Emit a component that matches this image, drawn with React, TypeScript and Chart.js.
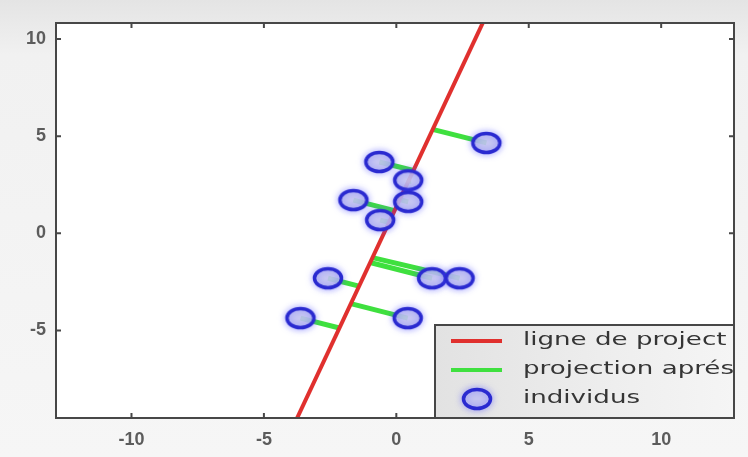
import { useEffect, useRef } from 'react';
import { Chart, registerables } from 'chart.js';
Chart.register(...registerables);

const xTicks = [-10, -5, 0, 5, 10];
const yTicks = [-5, 0, 5, 10];
const pointsX = [3.4, -0.64, 0.45, 0.45, -1.62, -0.61, 1.35, 2.39, -2.58, -3.62, 0.43];
const pointsY = [4.65, 3.67, 2.73, 1.62, 1.71, 0.68, -2.31, -2.31, -2.31, -4.36, -4.36];
const projX = [1.37, 0.64, 0.47, 0.13, -0.07, -0.28, -0.99, -0.9, -1.41, -2.15, -1.72];
const projY = [5.35, 3.23, 2.72, 1.73, 1.17, 0.57, -1.5, -1.25, -2.72, -4.87, -3.62];
const lineX = [-4.0, 3.5];
const lineY = [-10.24, 11.51];
const legendLabels = ['ligne de project', 'projection aprés', 'individus'];

const RED = '#e0302e';
const GREEN = '#3fe03f';
const BLUE = '#2a2ad0';

function drawEllipse(g: CanvasRenderingContext2D, cx: number, cy: number) {
  g.save();
  g.shadowColor = 'rgba(80,80,255,0.5)';
  g.shadowBlur = 7;
  g.beginPath();
  g.ellipse(cx, cy, 13.5, 9.5, 0, 0, Math.PI * 2);
  g.fillStyle = 'rgba(205,205,238,0.85)';
  g.fill();
  g.lineWidth = 3.5;
  g.strokeStyle = BLUE;
  g.stroke();
  g.restore();
}

function makeEllipse(): HTMLCanvasElement {
  const c = document.createElement('canvas');
  c.width = 48;
  c.height = 38;
  const g = c.getContext('2d')!;
  drawEllipse(g, 24, 19);
  return c;
}

export default function App() {
  const ref = useRef<HTMLCanvasElement>(null);
  useEffect(() => {
    document.body.style.margin = '0';
    const img = makeEllipse();
    const segs = pointsX.map((x, i) => ({
      type: 'scatter' as const,
      label: 'seg' + i,
      data: [
        { x, y: pointsY[i] },
        { x: projX[i], y: projY[i] },
      ],
      showLine: true,
      borderColor: GREEN,
      borderWidth: 5,
      pointRadius: 0,
      order: 3,
    }));
    const framePlugin = {
      id: 'frame',
      beforeDraw(chart: any) {
        const { ctx, chartArea: a, width, height } = chart;
        ctx.save();
        const grad = ctx.createLinearGradient(0, 0, 0, height);
        grad.addColorStop(0, '#e4e4e4');
        grad.addColorStop(0.12, '#f1f1f1');
        grad.addColorStop(1, '#f6f6f6');
        ctx.fillStyle = grad;
        ctx.fillRect(0, 0, width, height);
        ctx.fillStyle = '#ffffff';
        ctx.fillRect(a.left, a.top, a.right - a.left, a.bottom - a.top);
        ctx.restore();
      },
      afterDatasetsDraw(chart: any) {
        const { ctx, chartArea: a, scales } = chart;
        ctx.save();
        ctx.strokeStyle = '#474747';
        ctx.lineWidth = 2;
        ctx.strokeRect(a.left, a.top, a.right - a.left, a.bottom - a.top);
        ctx.beginPath();
        xTicks.forEach((v) => {
          const px = scales.x.getPixelForValue(v);
          ctx.moveTo(px, a.bottom);
          ctx.lineTo(px, a.bottom - 5);
          ctx.moveTo(px, a.top);
          ctx.lineTo(px, a.top + 5);
        });
        yTicks.forEach((v) => {
          const py = scales.y.getPixelForValue(v);
          ctx.moveTo(a.left, py);
          ctx.lineTo(a.left + 5, py);
          ctx.moveTo(a.right, py);
          ctx.lineTo(a.right - 5, py);
        });
        ctx.stroke();

        // legend
        const L = 435, T = 325, R = a.right, B = a.bottom;
        const lg = ctx.createLinearGradient(L, 0, R, 0);
        lg.addColorStop(0, '#e2e2e2');
        lg.addColorStop(0.6, '#eeeeee');
        lg.addColorStop(1, '#f5f5f5');
        ctx.fillStyle = lg;
        ctx.fillRect(L, T, R - L, B - T);
        ctx.strokeStyle = '#474747';
        ctx.lineWidth = 2;
        ctx.strokeRect(L, T, R - L, B - T);
        const rows = [341, 370, 399];
        ctx.lineWidth = 4;
        ctx.strokeStyle = RED;
        ctx.beginPath();
        ctx.moveTo(451, rows[0]);
        ctx.lineTo(502, rows[0]);
        ctx.stroke();
        ctx.strokeStyle = GREEN;
        ctx.beginPath();
        ctx.moveTo(451, rows[1]);
        ctx.lineTo(502, rows[1]);
        ctx.stroke();
        drawEllipse(ctx, 477, rows[2]);
        ctx.save();
        ctx.beginPath();
        ctx.rect(L + 1, T + 1, R - L - 2, B - T - 2);
        ctx.clip();
        ctx.fillStyle = '#353535';
        ctx.font = '18px "DejaVu Sans"';
        ctx.textBaseline = 'middle';
        legendLabels.forEach((t, i) => {
          ctx.save();
          ctx.translate(523, rows[i] - 1);
          ctx.scale(1.45, 1);
          ctx.fillText(t, 0, 0);
          ctx.restore();
        });
        ctx.restore();
        ctx.restore();
      },
    };
    const tickFont = { family: '"Liberation Sans", Arial, sans-serif', size: 18, weight: 'bold' as const };
    const chart = new Chart(ref.current!, {
      type: 'scatter',
      data: {
        datasets: [
          {
            type: 'scatter',
            label: 'individus',
            data: pointsX.map((x, i) => ({ x, y: pointsY[i] })),
            pointStyle: img as any,
            pointRadius: 13,
            order: 1,
          },
          {
            type: 'scatter',
            label: 'ligne de project',
            data: lineX.map((x, i) => ({ x, y: lineY[i] })),
            showLine: true,
            borderColor: RED,
            borderWidth: 4,
            pointRadius: 0,
            order: 2,
          },
          ...segs,
        ] as any,
      },
      options: {
        animation: false,
        responsive: true,
        maintainAspectRatio: false,
        layout: { padding: { top: 23, right: 12, left: 0, bottom: 0 } },
        plugins: { legend: { display: false }, tooltip: { enabled: false } },
        events: [],
        scales: {
          x: {
            type: 'linear',
            min: -12.85,
            max: 12.75,
            afterBuildTicks: (s: any) => {
              s.ticks = xTicks.map((v) => ({ value: v }));
            },
            afterFit: (s: any) => {
              s.height = 39;
            },
            grid: { display: false, drawTicks: false },
            border: { display: false },
            ticks: {
              autoSkip: false,
              maxRotation: 0,
              padding: 11,
              color: '#5c5c5c',
              font: tickFont,
            },
          },
          y: {
            type: 'linear',
            min: -9.5,
            max: 10.82,
            afterBuildTicks: (s: any) => {
              s.ticks = yTicks.map((v) => ({ value: v }));
            },
            afterFit: (s: any) => {
              s.width = 56;
            },
            grid: { display: false, drawTicks: false },
            border: { display: false },
            ticks: {
              autoSkip: false,
              padding: 10,
              color: '#5c5c5c',
              font: tickFont,
            },
          },
        },
      },
      plugins: [framePlugin],
    });
    return () => chart.destroy();
  }, []);
  return (
    <div style={{ position: 'fixed', left: 0, top: 0, width: 748, height: 457 }}>
      <canvas ref={ref} />
    </div>
  );
}
